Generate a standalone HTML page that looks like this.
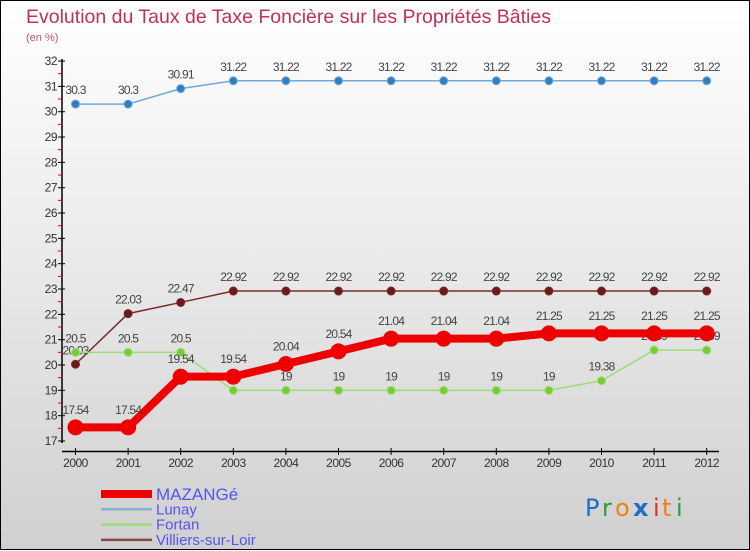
<!DOCTYPE html>
<html><head><meta charset="utf-8"><style>
html,body{margin:0;padding:0}
body{width:750px;height:550px;overflow:hidden;font-family:"Liberation Sans",sans-serif}
#wrap{position:relative;width:748px;height:548px;border:1px solid #000;background:linear-gradient(#ffffff,#f2f2f2 30%,#d0d0d0)}
svg{position:absolute;left:0;top:0}
</style></head><body>
<div id="wrap">
<svg id="chart" width="750" height="550" font-family="Liberation Sans, sans-serif">
<text x="25" y="22" font-size="19.5" fill="#c0305a">Evolution du Taux de Taxe Foncière sur les Propriétés Bâties</text>
<text x="25" y="40" font-size="11" fill="#c0507a">(en %)</text>
<g id="axes"></g>
<g id="series"></g>
<g id="legend"></g>
<g font-family="DejaVu Sans, sans-serif" font-size="24">
<text x="584" y="515" fill="#1a6fc8">P</text><text x="601" y="515" fill="#2e9a3a">r</text><text x="614" y="515" fill="#f08010">o</text><text x="632" y="515" fill="#1a6fc8" font-weight="bold">x</text><text x="652" y="515" fill="#e03020">i</text><text x="661" y="515" fill="#f08010">t</text><text x="675" y="515" fill="#2e9a3a">i</text>
</g>
</svg>
</div>
<script>
const years=[2000,2001,2002,2003,2004,2005,2006,2007,2008,2009,2010,2011,2012];
const mazange=[17.54,17.54,19.54,19.54,20.04,20.54,21.04,21.04,21.04,21.25,21.25,21.25,21.25];
const lunay=[30.3,30.3,30.91,31.22,31.22,31.22,31.22,31.22,31.22,31.22,31.22,31.22,31.22];
const fortan=[20.5,20.5,20.5,19,19,19,19,19,19,19,19.38,20.59,20.59];
const villiers=[20.03,22.03,22.47,22.92,22.92,22.92,22.92,22.92,22.92,22.92,22.92,22.92,22.92];
const yTicks=[17,18,19,20,21,22,23,24,25,26,27,28,29,30,31,32];
const NS="http://www.w3.org/2000/svg";
const xS=i=>74.5+i*52.6;
const yS=v=>440-(v-17)*25.33;
function mk(tag,attrs,parent){const e=document.createElementNS(NS,tag);for(const k in attrs)e.setAttribute(k,attrs[k]);parent.appendChild(e);return e;}
const axes=document.getElementById('axes');
let yl=mk('line',{x1:61,y1:58,x2:61,y2:442,stroke:'#000','stroke-width':1.5},axes);


let xl=mk('line',{x1:61,y1:450.5,x2:718,y2:450.5,stroke:'#000','stroke-width':1.5},axes);


yTicks.forEach(v=>{
 mk('line',{x1:57,x2:64,y1:yS(v),y2:yS(v),stroke:'#000'},axes);
 if(v<32) mk('line',{x1:57,x2:61,y1:yS(v+0.5),y2:yS(v+0.5),stroke:'#e00'},axes);
 const t=mk('text',{x:56,y:yS(v)+4,'font-size':12,'text-anchor':'end',fill:'#333','letter-spacing':'-0.5'},axes);
 t.textContent=v;
 
 
});
years.forEach((y,i)=>{
 mk('line',{x1:xS(i),x2:xS(i),y1:447,y2:454,stroke:'#000'},axes);
 const t=mk('text',{x:xS(i),y:466,'font-size':12,'text-anchor':'middle',fill:'#333','letter-spacing':'-0.5'},axes);
 t.textContent=y;
 
 
});
const sg=document.getElementById('series');
function series(vals,color,dot,w,r,name){
 const g=mk('g',{},sg);
 
 
 const pts=vals.map((v,i)=>xS(i)+','+yS(v)).join(' ');
 const pl=mk('polyline',{points:pts,fill:'none',stroke:color,'stroke-width':w},g);
 
 
 vals.forEach((v,i)=>{
  const c=mk('circle',{cx:xS(i),cy:yS(v),r:r,fill:dot,stroke:color,'stroke-width':1},g);
  
  
  const t=mk('text',{x:xS(i),y:yS(v)-(r+6),'font-size':12,'text-anchor':'middle',fill:'#444','letter-spacing':'-0.8'},g);
  t.textContent=v;
  
  
 });
}
series(lunay,'#6fa8dc','#2f7fc0',1.5,4,'lunay');
series(villiers,'#7a2a2a','#6a1a1a',1.5,4,'villiers');
series(fortan,'#99dd77','#77cc33',1.5,4,'fortan');
series(mazange,'#ee0000','#ee0000',8,7.5,'mazange');
const lg=document.getElementById('legend');
const leg=[['MAZANGé','#ee0000',8],['Lunay','#88b0d0',2.5],['Fortan','#99dd77',2.5],['Villiers-sur-Loir','#8a4a4a',2.5]];
leg.forEach((l,i)=>{
 const y=493+i*15.3;
 const g=mk('g',{},lg);
 
 
 mk('line',{x1:100,x2:151,y1:y,y2:y,stroke:l[1],'stroke-width':l[2]},g);
 const t=mk('text',{x:155,y:y+(i==0?6:5),'font-size':i==0?17:15,fill:'#5555ee'},g);
 t.textContent=l[0];
});
</script>
</body></html>
